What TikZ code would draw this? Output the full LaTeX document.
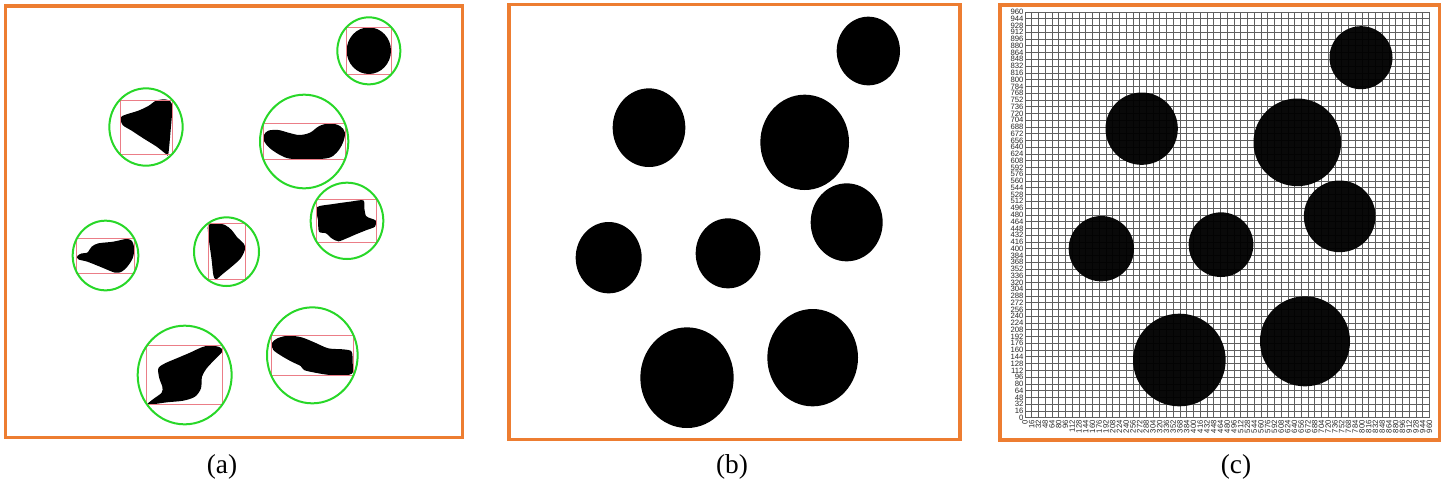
\documentclass[tikz,border=0pt]{standalone}
\usepackage{fontspec}
\setmainfont{Liberation Serif}
\newfontfamily\ticksans{Liberation Sans}
\definecolor{frameorange}{RGB}{237,125,49}
\definecolor{ringgreen}{RGB}{40,215,40}
\definecolor{boxred}{RGB}{235,125,135}
\definecolor{gridgray}{RGB}{95,95,95}
\definecolor{ticktext}{RGB}{40,40,40}
\tikzset{
  panelframe/.style={draw=frameorange,line width=2.3pt},
  ring/.style={draw=ringgreen,line width=1.5pt},
  bbox/.style={draw=boxred,line width=0.6pt},
  blob/.style={fill=black,draw=none},
  disc/.style={fill=black,fill opacity=0.965,draw=none},
  gridline/.style={draw=gridgray,line width=0.5pt},
  ticklab/.style={inner sep=0pt,text=ticktext,font=\ticksans\fontsize{5.8}{5.8}\selectfont},
  caption/.style={inner sep=0pt,font=\fontsize{20.5}{24}\selectfont}
}
\begin{document}
\begin{tikzpicture}[x=0.75pt,y=-0.75pt]
\useasboundingbox (0,0) rectangle (1445,487);

% ---------------- panel (a) ----------------
\begin{scope}[x=0.25pt,y=-0.25pt]
\draw[panelframe] (17,18) rectangle (1388,1312);
% 1
\fill[blob] (1106.5,152) ellipse [x radius=66.5,y radius=70];
\draw[bbox] (1040,82) rectangle (1173,222);
\draw[ring] (1106.5,152.5) ellipse [x radius=94.5,y radius=100.5];
% 2
\fill[blob] plot[smooth cycle,tension=0.5] coordinates {(362,352) (380,343) (415,332) (445,318) (468,302) (495,298) (512,305) (517,325) (512,390) (505,462) (498,462) (470,440) (430,415) (395,392) (368,375)};
\draw[bbox] (361,300) rectangle (516,463);
\draw[ring] (438,381) ellipse [x radius=110,y radius=116];
% 3
\fill[blob] plot[smooth cycle,tension=0.55] coordinates {(792,405) (805,392) (835,390) (865,398) (898,405) (930,398) (958,378) (990,370) (1020,378) (1035,398) (1028,430) (1010,458) (985,474) (930,478) (870,476) (840,465) (810,445) (793,425)};
\draw[bbox] (790,370) rectangle (1036,479);
\draw[ring] (912.5,424.5) ellipse [x radius=132.5,y radius=140.5];
% 4
\fill[blob] plot[smooth cycle,tension=0.45] coordinates {(950,622) (1000,612) (1050,605) (1090,601) (1093,625) (1098,648) (1112,655) (1128,662) (1125,680) (1100,690) (1070,702) (1040,715) (1015,724) (995,715) (978,700) (957,695) (954,660)};
\draw[bbox] (950,598) rectangle (1130,727);
\draw[ring] (1041,662.5) ellipse [x radius=109,y radius=114.5];
% 5
\fill[blob] plot[smooth cycle,tension=0.5] coordinates {(232,768) (245,760) (262,758) (275,740) (295,730) (340,725) (378,717) (395,722) (403,745) (398,775) (382,800) (365,815) (345,818) (300,800) (262,785) (235,778)};
\draw[bbox] (230,715) rectangle (404,820);
\draw[ring] (316.5,766.5) ellipse [x radius=98.5,y radius=104.5];
% 6
\fill[blob] plot[smooth cycle,tension=0.5] coordinates {(625,675) (650,670) (675,675) (695,690) (710,710) (732,732) (735,748) (722,775) (695,800) (668,822) (648,838) (640,825) (635,780) (628,730) (624,695)};
\draw[bbox] (624,670) rectangle (736,837);
\draw[ring] (679.5,755) ellipse [x radius=97.5,y radius=103];
% 7
\fill[blob] plot[smooth cycle,tension=0.5] coordinates {(442,1212) (460,1197) (485,1178) (487,1160) (478,1135) (475,1105) (495,1090) (530,1075) (570,1058) (605,1042) (630,1036) (660,1042) (667,1055) (645,1078) (620,1105) (606,1130) (603,1165) (585,1190) (550,1202) (500,1207) (450,1214)};
\draw[bbox] (440,1036) rectangle (667,1214);
\draw[ring] (554,1125) ellipse [x radius=141,y radius=148];
% 8
\fill[blob] plot[smooth cycle,tension=0.5] coordinates {(815,1030) (832,1015) (865,1007) (905,1012) (945,1028) (985,1045) (1030,1048) (1055,1055) (1058,1090) (1060,1115) (1045,1125) (990,1125) (945,1118) (912,1110) (902,1098) (875,1085) (845,1068) (820,1050)};
\draw[bbox] (815,1005) rectangle (1060,1127);
\draw[ring] (937,1066) ellipse [x radius=136,y radius=144];
\end{scope}

% ---------------- panel (b) ----------------
\begin{scope}[shift={(500,0)},x=0.25pt,y=-0.25pt]
\draw[panelframe] (27,13) rectangle (1380,1318);
\fill[blob] (1105,153) ellipse [x radius=95,y radius=103];
\fill[blob] (447,383) ellipse [x radius=109,y radius=118];
\fill[blob] (914,427) ellipse [x radius=133,y radius=143];
\fill[blob] (1040,667) ellipse [x radius=108,y radius=117];
\fill[blob] (326,773) ellipse [x radius=99,y radius=107];
\fill[blob] (684,760) ellipse [x radius=97,y radius=105];
\fill[blob] (561,1133) ellipse [x radius=140,y radius=151];
\fill[blob] (938,1073) ellipse [x radius=136,y radius=146];
\end{scope}

% ---------------- panel (c) ----------------
\begin{scope}[shift={(995,0)},x=0.25pt,y=-0.25pt]
\draw[panelframe] (15,15) rectangle (1333,1320);
\foreach \i in {0,...,60}{
  \pgfmathsetmacro\gx{90+\i*20.2167}
  \pgfmathsetmacro\gy{1253-\i*20.2833}
  \draw[gridline] (\gx,36) -- (\gx,1253);
  \draw[gridline] (90,\gy) -- (1303,\gy);
  \pgfmathtruncatemacro\tv{16*\i}
  \node[ticklab,anchor=east] (yl\i) at (86,\gy) {\tv};
  \node[ticklab,rotate=90,anchor=east] (xl\i) at (\gx,1260) {\tv};
}
\fill[disc] (1098,173) circle [radius=94.5];
\fill[disc] (440,386) circle [radius=108.5];
\fill[disc] (907,427) circle [radius=131.5];
\fill[disc] (1034,649) circle [radius=107.5];
\fill[disc] (319,746) circle [radius=98];
\fill[disc] (678,734) circle [radius=97];
\fill[disc] (553,1080) circle [radius=139];
\fill[disc] (930,1024) circle [radius=135];
\end{scope}

% ---------------- captions ----------------
\node[caption,anchor=base] (capa) at (222,473) {(a)};
\node[caption,anchor=base] (capb) at (732,473) {(b)};
\node[caption,anchor=base] (capc) at (1236,473) {(c)};
\end{tikzpicture}
\end{document}
